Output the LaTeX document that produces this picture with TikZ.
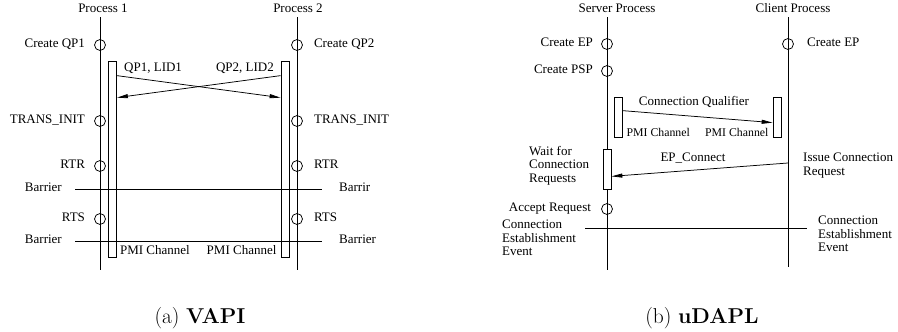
\documentclass[tikz,border=0pt]{standalone}
\usepackage{fontspec}
\newfontfamily\tm{Liberation Serif}
\usetikzlibrary{positioning,arrows.meta,calc}
\tikzset{
  life/.style ={line width=0.75pt},
  evt/.style  ={circle, draw, line width=0.75pt, minimum size=11pt, inner sep=0pt},
  chan/.style ={rectangle, draw, line width=0.75pt, minimum width=8pt, inner sep=0pt},
  lbl/.style  ={font=\tm\fontsize{13}{13.5}\selectfont, inner sep=0pt},
  slbl/.style ={font=\tm\fontsize{11.8}{13}\selectfont, inner sep=0pt},
  msg/.style  ={-{Triangle[length=11pt,width=4pt]}, line width=0.75pt},
  subcap/.style={font=\fontsize{21.5}{24}\selectfont, inner sep=0pt},
}

\begin{document}
\begin{tikzpicture}[x=1pt,y=-1pt]
  \useasboundingbox (0,0) rectangle (898,332);

  % (a) VAPI: two processes exchanging QP numbers and LIDs
  \node[lbl] (t1) at (103,8) {Process 1};
  \node[lbl] (t2) at (298,8) {Process 2};
  \coordinate (p1a) at (100,17); \coordinate (p1b) at (100,270);
  \coordinate (p2a) at (297,17); \coordinate (p2b) at (297,270);
  \draw[life] (p1a) -- (p1b);
  \draw[life] (p2a) -- (p2b);
  \foreach \y/\n/\ta/\tb in {45/qp/Create QP1/Create QP2, 121/ti/TRANS\_INIT/TRANS\_INIT,
                             166/rtr/RTR/RTR, 219/rts/RTS/RTS} {
    \node[evt] (l\n) at (100,\y) {};
    \node[evt] (r\n) at (297,\y) {};
    \node[lbl, left=9pt of l\n, anchor=mid east] {\ta};
    \node[lbl, right=11pt of r\n, anchor=mid west] {\tb};
  }
  \node[chan, minimum height=196pt] (bl) at (112.5,159) {};
  \node[chan, minimum height=196pt] (br) at (285,159) {};
  \node[lbl, anchor=mid west] (qa) at (124,69) {QP1, LID1};
  \node[lbl, anchor=mid east] (qb) at (274,69) {QP2, LID2};
  \draw[msg] ($(bl.north east)+(0,15)$) -- ($(br.north west)+(0,37)$);
  \draw[msg] ($(br.north west)+(0,15)$) -- ($(bl.north east)+(0,37)$);
  % barriers
  \coordinate (b1l) at (75,189); \coordinate (b1r) at (322,189);
  \coordinate (b2l) at (75,241); \coordinate (b2r) at (322,241);
  \draw[life] (b1l) -- (b1r);
  \draw[life] (b2l) -- (b2r);
  \node[lbl, left=13pt of b1l, anchor=mid east] {Barrier};
  \node[lbl, right=17pt of b1r, anchor=mid west] {Barrir};
  \node[lbl, left=13pt of b2l, anchor=mid east] {Barrier};
  \node[lbl, right=17pt of b2r, anchor=mid west] {Barrier};
  \node[lbl, anchor=mid west] at ($(bl.south east)+(3,-5)$) {PMI Channel};
  \node[lbl, anchor=mid east] at ($(br.south west)+(-4,-5)$) {PMI Channel};

  % (b) uDAPL: server and client connection setup
  \node[lbl] (ts) at (617,8) {Server Process};
  \node[lbl] (tc) at (793,8) {Client Process};
  \coordinate (sa) at (607,17); \coordinate (sb) at (607,270);
  \coordinate (ca) at (788,17); \coordinate (cb) at (788,267);
  \draw[life] (sa) -- (sb);
  \draw[life] (ca) -- (cb);
  \node[evt] (sep) at (607,44) {};
  \node[evt] (cep) at (788,44) {};
  \node[evt] (psp) at (607,71) {};
  \node[evt] (acc) at (607,209) {};
  \node[lbl, left=8pt of sep, anchor=mid east] {Create EP};
  \node[lbl, right=13pt of cep, anchor=mid west] {Create EP};
  \node[lbl, left=8pt of psp, anchor=mid east] {Create PSP};
  \node[lbl, left=10pt of acc, anchor=mid east] {Accept Request};
  \node[chan, minimum height=40pt] (sq) at (618,117) {};
  \node[chan, minimum height=40pt] (cq) at (777,117) {};
  \node[lbl, anchor=mid] (cql) at (694,103) {Connection Qualifier};
  \draw[msg] ($(sq.north east)+(0,14)$) -- ($(cq.north west)+(0,26)$);
  \node[slbl, anchor=mid west] at ($(sq.south east)+(4,-3)$) {PMI Channel};
  \node[slbl, anchor=mid east] at ($(cq.south west)+(-4,-3)$) {PMI Channel};
  \node[chan, fill=white, minimum height=40pt] (wb) at (607,169) {};
  \node[lbl, align=left, anchor=west] (wt) at (529,165.5) {Wait for\\Connection\\Requests};
  \coordinate (ec) at (788,163);
  \draw[msg] (ec) -- ($(wb.south east)+(0,-13)$);
  \node[lbl, anchor=mid] (epl) at (693,159) {EP\_Connect};
  \node[lbl, align=left, anchor=west] (ic) at (803,165.5) {Issue Connection\\Request};
  \coordinate (el) at (585,228); \coordinate (er) at (807,228);
  \draw[life] (el) -- (er);
  \node[lbl, align=left, anchor=west] (ell) at (502,238) {Connection\\Establishment\\Event};
  \node[lbl, align=left, anchor=west] (elr) at (818,234) {Connection\\Establishment\\Event};

  % sub-captions
  \node[subcap] (ca1) at (200,318) {(a) \textbf{VAPI}};
  \node[subcap] (ca2) at (702,318) {(b) \textbf{uDAPL}};
\end{tikzpicture}
\end{document}
